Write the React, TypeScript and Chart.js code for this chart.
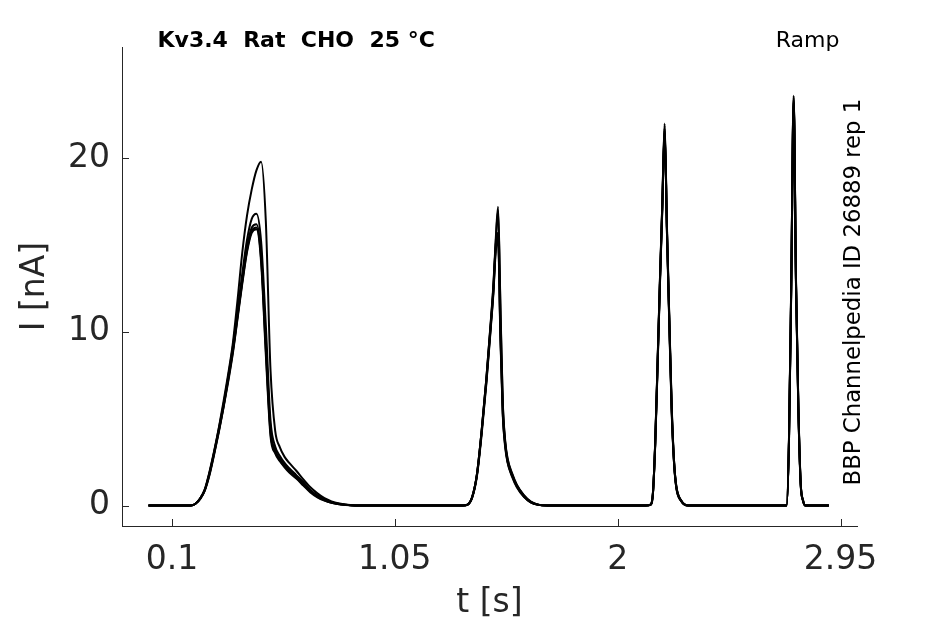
import React, { useEffect, useRef } from "react";
import { Chart, registerables } from "chart.js";

Chart.register(...registerables);

// shared time base of the sweeps [s]
const tSec = [
  0, 0.18, 0.2, 0.22, 0.24, 0.26, 0.28, 0.3, 0.32, 0.34, 0.36, 0.38, 0.4, 0.42, 0.44, 0.46,
  0.48, 0.5, 0.52, 0.54, 0.56, 0.58, 0.6, 0.63, 0.66, 0.69, 0.72, 0.75, 0.78, 0.82, 0.86, 0.9,
  1.34, 1.36, 1.38, 1.4, 1.42, 1.44, 1.46, 1.47, 1.48, 1.49, 1.5, 1.51, 1.52, 1.53, 1.55, 1.57,
  1.6, 1.63, 1.66, 1.7,
  2.12, 2.14, 2.15, 2.16, 2.17, 2.18, 2.19, 2.2, 2.21, 2.22, 2.23, 2.24, 2.25, 2.27, 2.3,
  2.7, 2.72, 2.73, 2.74, 2.75, 2.76, 2.77, 2.78, 2.79, 2.8, 2.9,
];

// current per sweep [nA]
const rep1 = [
  0, 0, 0.1, 0.4, 0.95, 1.95, 3.15, 4.5, 6.0, 7.6, 9.4, 11.9, 14.6, 16.7, 18.2, 19.3,
  19.8, 16.4, 7.8, 4.3, 3.35, 2.8, 2.45, 2.0, 1.5, 1.05, 0.7, 0.42, 0.24, 0.1, 0.03, 0,
  0, 0.05, 0.5, 1.8, 4.3, 7.3, 10.8, 12.7, 15.3, 17.2, 11.6, 6.0, 3.8, 2.75, 1.85, 1.2,
  0.6, 0.22, 0.05, 0,
  0, 0.05, 0.7, 3.7, 8.3, 13.0, 17.4, 22.0, 16.0, 10.8, 5.8, 2.6, 1.1, 0.3, 0,
  0, 0, 3.8, 13.2, 23.6, 13.0, 5.8, 1.3, 0.3, 0, 0,
];
const rep2 = [
  0, 0, 0.1, 0.4, 0.9, 1.9, 3.1, 4.45, 5.85, 7.45, 9.2, 11.3, 13.4, 15.3, 16.5, 16.8,
  15.2, 10.4, 4.9, 3.4, 2.85, 2.45, 2.15, 1.75, 1.35, 0.9, 0.58, 0.34, 0.19, 0.08, 0.02, 0,
  0, 0.05, 0.5, 1.8, 4.3, 7.3, 10.7, 12.6, 15.1, 17.0, 11.4, 5.9, 3.7, 2.7, 1.8, 1.15,
  0.58, 0.2, 0.05, 0,
  0, 0.05, 0.7, 3.7, 8.3, 13.0, 17.3, 21.9, 15.9, 10.7, 5.7, 2.6, 1.1, 0.3, 0,
  0, 0, 3.8, 13.1, 23.5, 12.9, 5.7, 1.3, 0.3, 0, 0,
];
const rep3 = [
  0, 0, 0.1, 0.4, 0.9, 1.85, 3.05, 4.35, 5.75, 7.35, 9.0, 11.0, 13.0, 14.9, 16.0, 16.2,
  14.5, 9.4, 4.4, 3.2, 2.7, 2.35, 2.05, 1.7, 1.3, 0.85, 0.55, 0.32, 0.18, 0.07, 0.02, 0,
  0, 0.05, 0.5, 1.8, 4.3, 7.2, 10.6, 12.4, 15.0, 15.7, 10.0, 5.5, 3.6, 2.6, 1.75, 1.15,
  0.55, 0.2, 0.05, 0,
  0, 0.05, 0.68, 3.65, 8.2, 12.9, 17.2, 21.7, 15.8, 10.6, 5.6, 2.5, 1.05, 0.28, 0,
  0, 0, 3.7, 13.0, 23.4, 12.8, 5.6, 1.25, 0.28, 0, 0,
];
const rep4 = [
  0, 0, 0.1, 0.38, 0.88, 1.8, 3.0, 4.3, 5.7, 7.25, 8.9, 10.9, 12.9, 14.7, 15.8, 16.0,
  14.2, 9.0, 4.2, 3.1, 2.6, 2.25, 1.95, 1.6, 1.2, 0.8, 0.5, 0.3, 0.16, 0.06, 0.02, 0,
  0, 0.05, 0.48, 1.75, 4.2, 7.1, 10.5, 12.3, 14.8, 15.5, 9.8, 5.3, 3.5, 2.55, 1.7, 1.1,
  0.52, 0.18, 0.04, 0,
  0, 0.04, 0.66, 3.6, 8.1, 12.8, 17.1, 21.6, 15.7, 10.5, 5.5, 2.5, 1.0, 0.27, 0,
  0, 0, 3.7, 12.9, 23.3, 12.7, 5.6, 1.2, 0.27, 0, 0,
];
const rep5 = [
  0, 0, 0.1, 0.37, 0.86, 1.75, 2.95, 4.25, 5.65, 7.15, 8.8, 10.8, 12.8, 14.6, 15.7, 15.9,
  14.0, 8.7, 4.0, 3.0, 2.55, 2.2, 1.9, 1.55, 1.15, 0.75, 0.47, 0.28, 0.15, 0.06, 0.01, 0,
  0, 0.04, 0.46, 1.7, 4.1, 7.0, 10.4, 12.2, 14.6, 15.3, 9.6, 5.2, 3.4, 2.5, 1.65, 1.05,
  0.5, 0.17, 0.04, 0,
  0, 0.04, 0.65, 3.55, 8.0, 12.7, 17.0, 21.5, 15.6, 10.4, 5.4, 2.45, 1.0, 0.26, 0,
  0, 0, 3.6, 12.8, 23.2, 12.6, 5.5, 1.2, 0.26, 0, 0,
];
const sweeps = [rep1, rep2, rep3, rep4, rep5];

const xTicks = [0.1, 1.05, 2, 2.95];
const yTicks = [0, 10, 20];

const titleText = "Kv3.4  Rat  CHO  25 °C";
const protocolText = "Ramp";
const sourceText = "BBP Channelpedia ID 26889 rep 1";

const AXIS = "#262626";
const FONT = '"DejaVu Sans", Verdana, sans-serif';

// inward tick marks + the header / side annotations
const decorations = {
  id: "decorations",
  afterDraw(chart: any) {
    const { ctx, chartArea, scales } = chart;
    ctx.save();
    ctx.strokeStyle = AXIS;
    ctx.lineWidth = 1;
    ctx.beginPath();
    for (const v of xTicks) {
      const px = Math.round(scales.x.getPixelForValue(v)) + 0.5;
      ctx.moveTo(px, chartArea.bottom);
      ctx.lineTo(px, chartArea.bottom - 7);
    }
    for (const v of yTicks) {
      const py = Math.round(scales.y.getPixelForValue(v)) + 0.5;
      ctx.moveTo(chartArea.left, py);
      ctx.lineTo(chartArea.left + 7, py);
    }
    ctx.stroke();

    ctx.fillStyle = "#000";
    ctx.textBaseline = "alphabetic";
    ctx.font = `bold 22px ${FONT}`;
    ctx.textAlign = "left";
    ctx.fillText(titleText, 157.5, 47);

    ctx.font = `22px ${FONT}`;
    ctx.textAlign = "right";
    ctx.fillText(protocolText, 839.5, 47);

    ctx.translate(860, 485.5);
    ctx.rotate(-Math.PI / 2);
    ctx.font = `22.8px ${FONT}`;
    ctx.textAlign = "left";
    ctx.fillText(sourceText, 0, 0);
    ctx.restore();
  },
};

export default function App() {
  const canvasRef = useRef<HTMLCanvasElement>(null);

  useEffect(() => {
    if (!canvasRef.current) return;
    const chart = new Chart(canvasRef.current, {
      type: "line",
      data: {
        datasets: sweeps.map((rep, k) => ({
          label: `sweep ${k + 1}`,
          data: tSec.map((t, i) => ({ x: t, y: rep[i] })),
          borderColor: "#000",
          borderWidth: 2,
          pointRadius: 0,
          cubicInterpolationMode: "monotone" as const,
          fill: false,
        })),
      },
      options: {
        responsive: false,
        animation: false,
        layout: { padding: { top: 47, right: 88, left: 0, bottom: 0 } },
        plugins: {
          legend: { display: false },
          tooltip: { enabled: false },
        },
        scales: {
          x: {
            type: "linear",
            min: -0.113,
            max: 3.02,
            afterBuildTicks: (s: any) => {
              s.ticks = xTicks.map((v) => ({ value: v }));
            },
            afterFit: (s: any) => {
              s.height = 98;
            },
            grid: { display: true, drawOnChartArea: false, drawTicks: false },
            border: { display: true, color: AXIS, width: 1 },
            ticks: {
              color: AXIS,
              font: { family: FONT, size: 33 },
              padding: 15,
              maxRotation: 0,
              autoSkip: false,
              callback: (v: any) => String(v),
            },
            title: {
              display: true,
              text: "t [s]",
              color: AXIS,
              font: { family: FONT, size: 33 },
              padding: { top: 0, bottom: 1 },
            },
          },
          y: {
            type: "linear",
            min: -1.18,
            max: 26.4,
            afterBuildTicks: (s: any) => {
              s.ticks = yTicks.map((v) => ({ value: v }));
            },
            afterFit: (s: any) => {
              s.width = 122;
            },
            grid: { display: true, drawOnChartArea: false, drawTicks: false },
            border: { display: true, color: AXIS, width: 1 },
            ticks: {
              color: AXIS,
              font: { family: FONT, size: 33 },
              padding: 12,
              autoSkip: false,
              callback: (v: any) => String(v),
            },
            title: {
              display: true,
              text: "I [nA]",
              color: AXIS,
              font: { family: FONT, size: 33 },
              padding: { top: 16, bottom: 0 },
            },
          },
        },
      },
      plugins: [decorations],
    });
    return () => chart.destroy();
  }, []);

  return (
    <div style={{ position: "absolute", left: 0, top: 0, width: 945, height: 624, background: "#fff" }}>
      <canvas ref={canvasRef} width={945} height={624} style={{ display: "block" }} />
    </div>
  );
}
